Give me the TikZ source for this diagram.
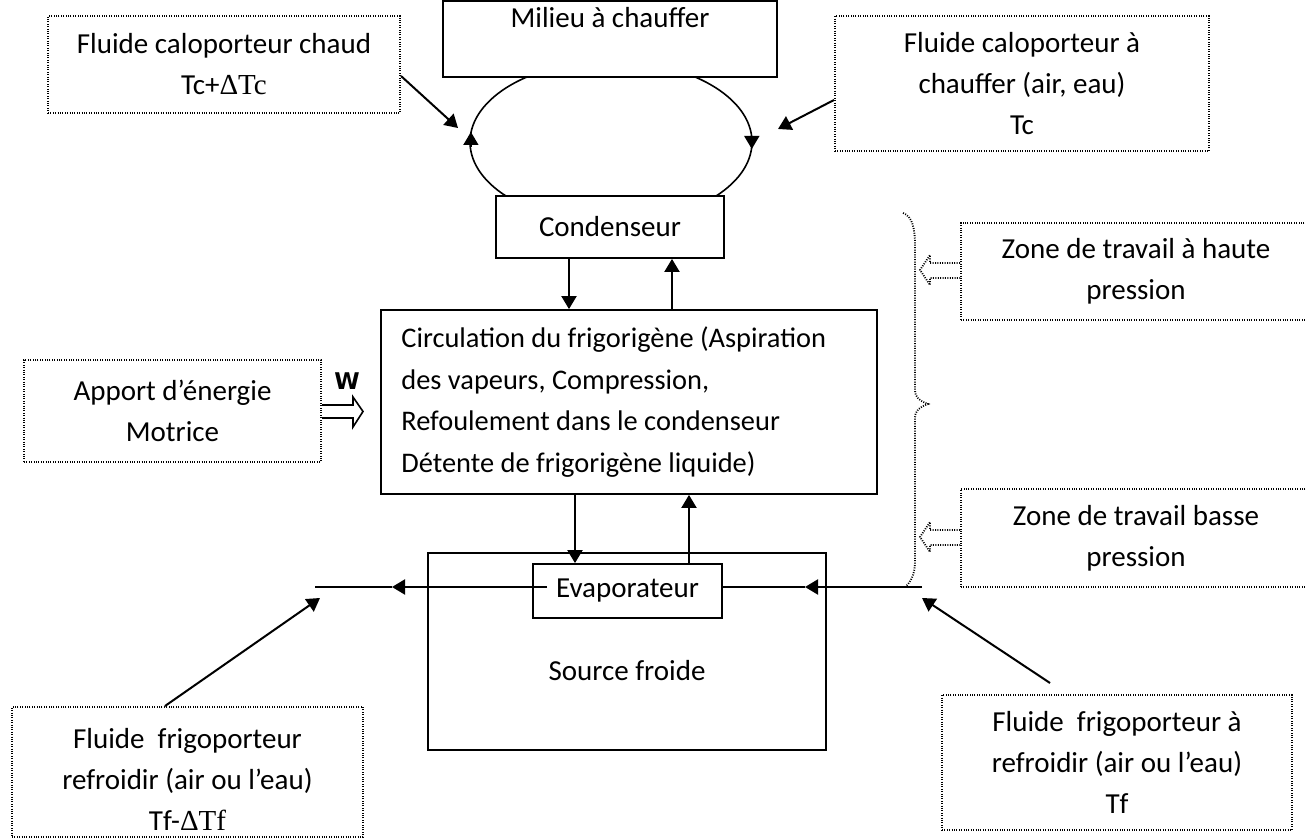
\documentclass[tikz,border=0pt]{standalone}
\usepackage{fontspec}
\setmainfont{Carlito}
\newfontfamily\deltafont{Liberation Serif}
\newfontfamily\wfont{DejaVu Sans}
\usetikzlibrary{arrows.meta,calc}
\newcommand\bodysize{\fontsize{14.5}{20.5}\selectfont}
\newcommand\circsize{\fontsize{14.2}{20.8}\selectfont}

\tikzset{
  solidbox/.style={draw, line width=0.9pt, fill=white, inner sep=0pt, font=\bodysize},
  dotbox/.style={draw, line width=1pt, dash pattern=on 0.5pt off 0.7pt, inner sep=0pt,
                 align=center, font=\bodysize},
  dotline/.style={line width=0.9pt, dash pattern=on 0.5pt off 0.7pt},
  lbl/.style={inner sep=0pt, align=center, font=\bodysize},
  flow/.style={line width=1pt, -{Triangle[length=6.5pt,width=7.5pt]}},
  wire/.style={line width=1pt},
  cyclehead/.style={line width=0.8pt, -{Triangle[length=6.5pt,width=7.5pt]}},
}

\begin{document}
\begin{tikzpicture}[x=0.5pt,y=-0.5pt]
\useasboundingbox (0,0) rectangle (1306,838);

% condenser loop (drawn first, boxes cover its ends)
\draw[line width=0.8pt] (611,142) ellipse [x radius=70.5pt, y radius=40.5pt];
\draw[cyclehead] (470.9,147) -- (470.9,132);
\draw[cyclehead] (751.8,136) -- (751.8,149);

% main blocks
\node[solidbox, minimum width=167pt, minimum height=38pt] (milieu) at (610,39) {};
\node[lbl] (milieutxt) at (610,18) {Milieu à chauffer};
\node[solidbox, minimum width=114pt, minimum height=31pt] (cond) at (610,227) {Condenseur};
\node[solidbox, minimum width=248pt, minimum height=92pt] (circ) at (629,402) {};
\node[lbl, align=left, anchor=west, font=\circsize] (circtxt) at (401,402)
  {Circulation du frigorigène (Aspiration\\des vapeurs, Compression,\\Refoulement dans le condenseur\\Détente de frigorigène liquide)};
\node[solidbox, minimum width=199pt, minimum height=98.5pt] (src) at (627,651.5) {};
\node[lbl] (srctxt) at (627,671) {Source froide};
\node[solidbox, minimum width=94.5pt, minimum height=27pt] (evap) at (627.5,591) {Evaporateur};

% dotted annotation boxes
\node[dotbox, minimum width=176pt, minimum height=48.5pt] (hot) at (224,64.5)
  {Fluide caloporteur chaud\\Tc+{\deltafont ΔTc}};
\node[dotbox, minimum width=187pt, minimum height=67.5pt] (warm) at (1022,83.5)
  {Fluide caloporteur à\\chauffer (air, eau)\\Tc};
\node[dotbox, minimum width=148.5pt, minimum height=51pt] (motor) at (172.5,411)
  {Apport d’énergie\\Motrice};
\node[dotbox, minimum width=175pt, minimum height=48.5pt] (hp) at (1136,271.5)
  {Zone de travail à haute\\pression};
\node[dotbox, minimum width=175pt, minimum height=49pt] (bp) at (1136,538)
  {Zone de travail basse\\pression};
\node[dotbox, minimum width=175.5pt, minimum height=65pt] (cold) at (187.5,772) {};
\node[lbl] (coldtxt) at (187.5,779)
  {Fluide\ \ frigoporteur\\refroidir (air ou l’eau)\\Tf-{\deltafont ΔTf}};
\node[dotbox, minimum width=175pt, minimum height=67.5pt] (cool) at (1117,762.5)
  {Fluide\ \ frigoporteur à\\refroidir (air ou l’eau)\\Tf};

% free ends of connectors
\coordinate (inL) at (458,128);
\coordinate (inR) at (778,129);
\coordinate (outL) at (315,587);
\coordinate (inFlow) at (922,587);
\coordinate (tipBL) at (320,598);
\coordinate (tipBR) at (922,598);

% heat-carrier inputs on the condenser loop
\draw[flow] (hot.east |- 0,76) -- (inL);
\draw[flow] (warm.west |- 0,100) -- (inR);

% refrigerant circulation
\draw[flow] (569,0 |- cond.south) -- (569,0 |- circ.north);
\draw[flow] (672,0 |- circ.north) -- (672,0 |- cond.south);
\draw[flow] (575,0 |- circ.south) -- (575,0 |- evap.north);
\draw[flow] (689,0 |- evap.north) -- (689,0 |- circ.south);

% cold-carrier flow through the evaporator
\draw[flow] ($(evap.west |- outL)+(15,0)$) -- (392,587);
\draw[wire] (392,587) -- (outL);
\draw[flow] (inFlow) -- (805,587);
\draw[wire] (805,587) -- (evap.east |- inFlow);
\draw[flow] (165,0 |- cold.north) -- (tipBL);
\draw[flow] ($(cool.north)+(-67,-11)$) -- (tipBR);

% work input
\node[font=\wfont\bfseries\fontsize{11.5}{14}\selectfont, inner sep=0pt] (wlbl) at (347,381) {W};
\draw[line width=0.8pt] (motor.east |- 0,405) -- (353,405) -- (353,397) -- (363,411.5)
  -- (353,427) -- (353,418) -- (motor.east |- 0,418);

% pressure zones
\draw[dotline] (903,213) .. controls (912,216) and (915,228) .. (915,245) -- (915,390)
  .. controls (915,398) and (920,401) .. (928,404)
  .. controls (920,407) and (915,410) .. (915,418) -- (915,562)
  .. controls (915,575) and (910,583) .. (905,587);
\draw[dotline] (hp.west |- 0,263) -- (930,263) -- (930,255) -- (920,270) -- (930,285)
  -- (930,278) -- (hp.west |- 0,278);
\draw[dotline] (bp.west |- 0,530) -- (930,530) -- (930,522) -- (920,537) -- (930,552)
  -- (930,545) -- (bp.west |- 0,545);
\end{tikzpicture}
\end{document}
